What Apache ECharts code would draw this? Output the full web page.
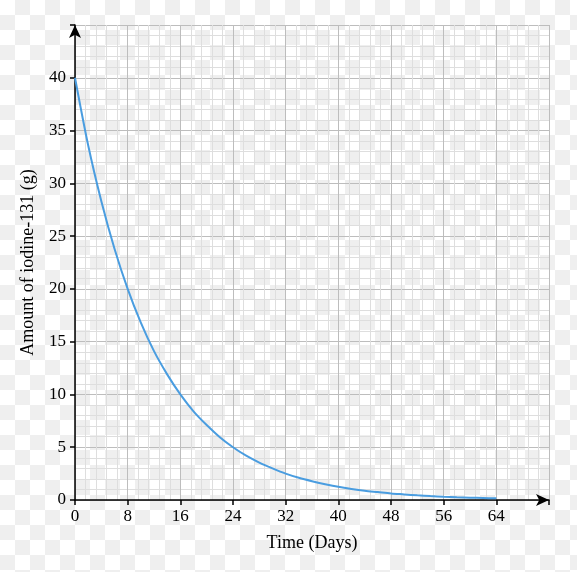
<!DOCTYPE html>
<html>
<head>
<meta charset="utf-8">
<script src="https://cdn.jsdelivr.net/npm/echarts@6/dist/echarts.min.js"></script>
<style>
  html, body {
    margin: 0;
    padding: 0;
    width: 577px;
    height: 572px;
    background-color: #fff;
    /* transparent-canvas checkerboard seen in the reference */
    background-image:
      linear-gradient(45deg, #efefef 25%, transparent 25%, transparent 75%, #efefef 75%),
      linear-gradient(45deg, #efefef 25%, transparent 25%, transparent 75%, #efefef 75%);
    background-size: 30px 30px;
    background-position: 0 0, 15px 15px;
  }
  #chart { width: 577px; height: 572px; }
</style>
</head>
<body>
<div id="chart"></div>
<script>
// days since start
const days = [0, 2, 4, 6, 8, 10, 12, 14, 16, 18, 20, 22, 24, 26, 28, 30, 32,
  34, 36, 38, 40, 42, 44, 46, 48, 50, 52, 54, 56, 58, 60, 62, 64];
// grams of iodine-131 remaining
const amount = [40, 33.6, 28.3, 23.8, 20, 16.8, 14.1, 11.9, 10, 8.4, 7.1, 5.95, 5,
  4.2, 3.55, 3, 2.5, 2.1, 1.78, 1.5, 1.25, 1.05, 0.88, 0.75, 0.62, 0.53, 0.44,
  0.37, 0.31, 0.26, 0.22, 0.19, 0.16];
const xTicks = [0, 8, 16, 24, 32, 40, 48, 56, 64];
const yTicks = [0, 5, 10, 15, 20, 25, 30, 35, 40];

window.onload = function () {
  const chart = echarts.init(document.getElementById('chart'), null, { renderer: 'canvas' });
  const font = '"Liberation Serif", "DejaVu Serif", serif';

  const axisCommon = {
    axisLine: {
      show: true,
      onZero: true,
      symbol: ['none', 'arrow'],
      symbolSize: [9, 13],
      lineStyle: { color: '#000', width: 1.5 },
    },
    axisTick: { show: true, length: 5, lineStyle: { color: '#000', width: 1.5 } },
    splitLine: { show: true, lineStyle: { color: '#bdbdbd', width: 1 } },
    minorTick: { show: false, splitNumber: 5 },
    minorSplitLine: { show: true, lineStyle: { color: '#dedede', width: 1 } },
    nameTextStyle: { fontFamily: font, fontSize: 18, color: '#000' },
  };

  const option = {
    animation: false,
    grid: { left: 75, top: 25, right: 28, bottom: 72, containLabel: false },
    xAxis: Object.assign({}, axisCommon, {
      type: 'value',
      min: 0,
      max: 72,
      interval: 8,
      name: 'Time (Days)',
      nameLocation: 'middle',
      nameGap: 34,
      axisLabel: {
        fontFamily: font, fontSize: 17, color: '#000', margin: 8,
        formatter: (v) => (xTicks.indexOf(v) >= 0 ? String(v) : ''),
      },
    }),
    yAxis: Object.assign({}, axisCommon, {
      type: 'value',
      min: 0,
      max: 45,
      interval: 5,
      name: 'Amount of iodine-131 (g)',
      nameLocation: 'middle',
      nameGap: 38,
      nameRotate: 90,
      axisLabel: {
        fontFamily: font, fontSize: 17, color: '#000', margin: 9,
        formatter: (v) => (yTicks.indexOf(v) >= 0 ? String(v) : ''),
      },
    }),
    series: [{
      type: 'line',
      data: days.map((d, i) => [d, amount[i]]),
      smooth: 0.3,
      showSymbol: false,
      lineStyle: { color: '#4a9de0', width: 2 },
      z: 3,
    }],
  };

  chart.setOption(option);
};
</script>
</body>
</html>
